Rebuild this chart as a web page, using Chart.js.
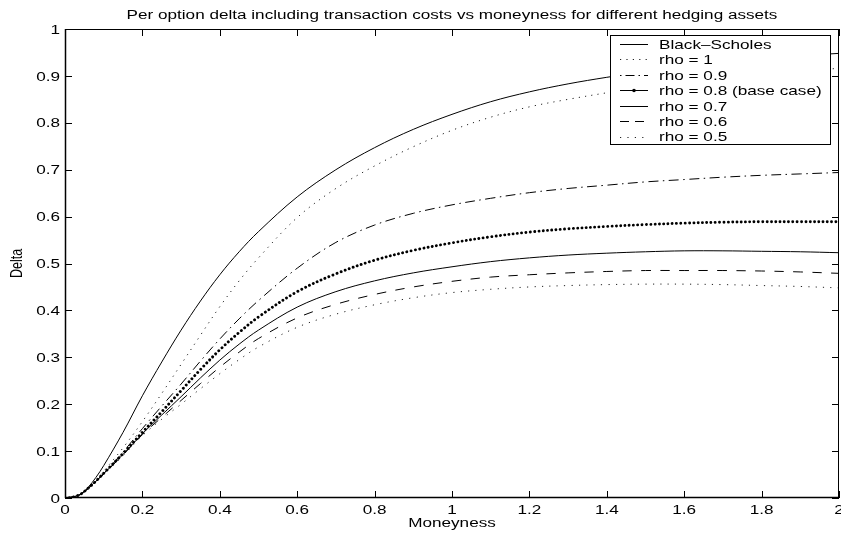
<!DOCTYPE html>
<html>
<head>
<meta charset="utf-8">
<script src="https://cdn.jsdelivr.net/npm/chart.js@4/dist/chart.umd.min.js"></script>
<style>
html,body{margin:0;padding:0;background:#fff;}
#wrap{width:841px;height:538px;position:relative;}
</style>
</head>
<body>
<div id="wrap"><canvas id="c" width="841" height="538"></canvas></div>
<script>
const titleText = "Per option delta including transaction costs vs moneyness for different hedging assets";
const xLabel = "Moneyness";
const yLabel = "Delta";
const xTicks = [0, 0.2, 0.4, 0.6, 0.8, 1, 1.2, 1.4, 1.6, 1.8, 2];
const xTickLabels = ["0", "0.2", "0.4", "0.6", "0.8", "1", "1.2", "1.4", "1.6", "1.8", "2"];
const yTicks = [0, 0.1, 0.2, 0.3, 0.4, 0.5, 0.6, 0.7, 0.8, 0.9, 1];
const yTickLabels = ["0", "0.1", "0.2", "0.3", "0.4", "0.5", "0.6", "0.7", "0.8", "0.9", "1"];
const seriesNames = ["Black\u2013Scholes", "rho = 1", "rho = 0.9", "rho = 0.8 (base case)", "rho = 0.7", "rho = 0.6", "rho = 0.5"];

const moneyness = [0,0.02,0.04,0.06,0.08,0.1,0.15,0.2,0.25,0.3,0.35,0.4,0.45,0.5,0.6,0.7,0.8,0.9,1.0,1.1,1.2,1.3,1.4,1.5,1.6,1.7,1.8,1.9,2.0];
const blackScholes = [0,0.002,0.008,0.023,0.044,0.069,0.14,0.218,0.29,0.358,0.42,0.476,0.525,0.568,0.642,0.70,0.747,0.786,0.818,0.845,0.866,0.883,0.897,0.909,0.919,0.928,0.936,0.943,0.948];
const rho10 = [0,0.002,0.007,0.02,0.037,0.057,0.107,0.163,0.223,0.285,0.347,0.408,0.463,0.512,0.598,0.66,0.708,0.749,0.784,0.812,0.834,0.85,0.864,0.877,0.888,0.897,0.905,0.911,0.916];
const rho09 = [0,0.002,0.007,0.02,0.035,0.052,0.098,0.148,0.196,0.243,0.292,0.339,0.382,0.421,0.49,0.545,0.582,0.607,0.625,0.639,0.651,0.66,0.667,0.674,0.679,0.684,0.688,0.691,0.694];
const rho08 = [0,0.002,0.008,0.021,0.036,0.053,0.095,0.14,0.184,0.229,0.274,0.316,0.353,0.386,0.44,0.478,0.507,0.528,0.544,0.557,0.567,0.574,0.579,0.583,0.586,0.588,0.589,0.589,0.589];
const rho07 = [0,0.002,0.008,0.021,0.036,0.052,0.093,0.137,0.177,0.216,0.256,0.294,0.328,0.358,0.407,0.44,0.463,0.48,0.493,0.504,0.512,0.518,0.522,0.525,0.527,0.527,0.526,0.525,0.523];
const rho06 = [0,0.002,0.008,0.021,0.036,0.051,0.092,0.135,0.172,0.208,0.244,0.279,0.311,0.34,0.384,0.413,0.434,0.45,0.462,0.471,0.476,0.48,0.483,0.485,0.485,0.485,0.484,0.482,0.479];
const rho05 = [0,0.002,0.008,0.021,0.035,0.05,0.09,0.133,0.168,0.2,0.233,0.265,0.295,0.322,0.364,0.392,0.412,0.427,0.438,0.445,0.45,0.453,0.455,0.456,0.456,0.455,0.453,0.451,0.448];

const FONT = '"Liberation Sans", Arial, Helvetica, sans-serif';

const styles = [
  {w:1, dash:[], cap:'butt', color:'#000'},
  {w:1, dash:[1.2,5.2], cap:'butt', color:'#222'},
  {w:1, dash:[10,4.5,1.5,4.5], cap:'butt', color:'#000'},
  {w:2.9, dash:[0.01,4.3], cap:'round', color:'#000'},
  {w:1, dash:[], cap:'butt', color:'#000'},
  {w:1, dash:[9.5,9.5], cap:'butt', color:'#000'},
  {w:1, dash:[1.2,6.2], cap:'butt', color:'#222'}
];
const allSeries = [blackScholes, rho10, rho09, rho08, rho07, rho06, rho05];

function pts(arr){ return moneyness.map((m,i)=>({x:m, y:arr[i]})); }

const datasets = allSeries.map((s,i)=>({
  label: seriesNames[i],
  data: pts(s),
  borderColor: styles[i].color,
  borderWidth: styles[i].w,
  borderDash: styles[i].dash,
  borderCapStyle: styles[i].cap,
  pointRadius: 0,
  fill: false,
  tension: 0.35
}));

function stext(ctx, s, x, y, size, sx, align, baseline){
  ctx.save();
  ctx.font = size + 'px ' + FONT;
  ctx.fillStyle = '#000';
  ctx.textBaseline = baseline || 'alphabetic';
  const w = ctx.measureText(s).width * sx;
  let x0 = x;
  if (align === 'center') x0 = x - w/2;
  else if (align === 'right') x0 = x - w;
  ctx.translate(x0, y);
  ctx.scale(sx, 1);
  ctx.textAlign = 'left';
  ctx.fillText(s, 0, 0);
  ctx.restore();
}

const decor = {
  id: 'decor',
  afterDatasetsDraw(chart){
    const ctx = chart.ctx;
    const a = chart.chartArea;
    const xs = chart.scales.x, ys = chart.scales.y;
    ctx.save();
    ctx.strokeStyle = '#000';
    ctx.lineWidth = 1;
    ctx.setLineDash([]);
    ctx.strokeRect(Math.round(a.left)+0.5, Math.round(a.top)+0.5, Math.round(a.right-a.left)-1, Math.round(a.bottom-a.top)-1);
    ctx.lineWidth = 1.5;
    ctx.beginPath(); ctx.moveTo(a.left, a.bottom-0.5); ctx.lineTo(a.right, a.bottom-0.5); ctx.stroke();
    ctx.beginPath(); ctx.moveTo(a.left+0.5, a.top); ctx.lineTo(a.left+0.5, a.bottom); ctx.stroke();
    ctx.lineWidth = 1;
    const tl = 7;
    ctx.beginPath();
    xTicks.forEach(v=>{
      const px = Math.round(xs.getPixelForValue(v)) + 0.5;
      ctx.moveTo(px, a.bottom); ctx.lineTo(px, a.bottom - tl);
      ctx.moveTo(px, a.top); ctx.lineTo(px, a.top + tl);
    });
    yTicks.forEach(v=>{
      const py = Math.round(ys.getPixelForValue(v)) + 0.5;
      ctx.moveTo(a.left, py); ctx.lineTo(a.left + tl, py);
      ctx.moveTo(a.right, py); ctx.lineTo(a.right - tl, py);
    });
    ctx.stroke();
    xTicks.forEach((v,i)=>{
      stext(ctx, xTickLabels[i], xs.getPixelForValue(v), 513.5, 12.5, 1.37, 'center');
    });
    yTicks.forEach((v,i)=>{
      stext(ctx, yTickLabels[i], 60, ys.getPixelForValue(v)+4.6, 12.5, 1.37, 'right');
    });
    stext(ctx, titleText, (a.left+a.right)/2, 18.5, 12.5, 1.37, 'center');
    stext(ctx, xLabel, (a.left+a.right)/2, 527, 12.5, 1.37, 'center');
    ctx.save();
    ctx.translate(22, (a.top+a.bottom)/2);
    ctx.rotate(-Math.PI/2);
    ctx.scale(1, 1.35);
    stext(ctx, yLabel, 0, 0, 12.5, 1.0, 'center');
    ctx.restore();
    // legend
    const lx = 610.5, ly = 35.5, lw = 220, lh = 109;
    ctx.fillStyle = '#fff';
    ctx.fillRect(lx, ly, lw, lh);
    ctx.strokeStyle = '#000';
    ctx.lineWidth = 1;
    ctx.setLineDash([]);
    ctx.strokeRect(lx, ly, lw, lh);
    seriesNames.forEach((name,i)=>{
      const cy = 44 + i*15.45;
      const st = styles[i];
      ctx.save();
      ctx.strokeStyle = st.color;
      if (i === 3) {
        ctx.lineWidth = 1;
        ctx.setLineDash([]);
        ctx.beginPath(); ctx.moveTo(620, Math.round(cy)+0.5); ctx.lineTo(648, Math.round(cy)+0.5); ctx.stroke();
        ctx.fillStyle = '#000';
        ctx.beginPath(); ctx.arc(634, Math.round(cy)+0.5, 1.8, 0, Math.PI*2); ctx.fill();
      } else {
        ctx.lineWidth = st.w;
        ctx.lineCap = st.cap;
        ctx.setLineDash(i===2 ? [1.5,4,9,4] : (i===5 ? [9,6] : st.dash));
        ctx.beginPath(); ctx.moveTo(620, Math.round(cy)+0.5); ctx.lineTo(648, Math.round(cy)+0.5); ctx.stroke();
      }
      ctx.restore();
      stext(ctx, name, 659, cy + 4.7, 13, 1.32, 'left');
    });
    ctx.restore();
  }
};

new Chart(document.getElementById('c'), {
  type: 'line',
  data: { datasets },
  options: {
    responsive: false,
    animation: false,
    devicePixelRatio: 1,
    layout: { padding: { top: 29, right: 2, left: 0, bottom: 0 } },
    plugins: { legend: { display: false }, title: { display: false }, tooltip: { enabled: false } },
    scales: {
      x: {
        type: 'linear', min: 0, max: 2,
        grid: { display: false }, border: { display: false },
        ticks: { display: false },
        afterFit(s){ s.height = 40; }
      },
      y: {
        type: 'linear', min: 0, max: 1,
        grid: { display: false }, border: { display: false },
        ticks: { display: false },
        afterFit(s){ s.width = 65; }
      }
    }
  },
  plugins: [decor]
});
</script>
</body>
</html>
